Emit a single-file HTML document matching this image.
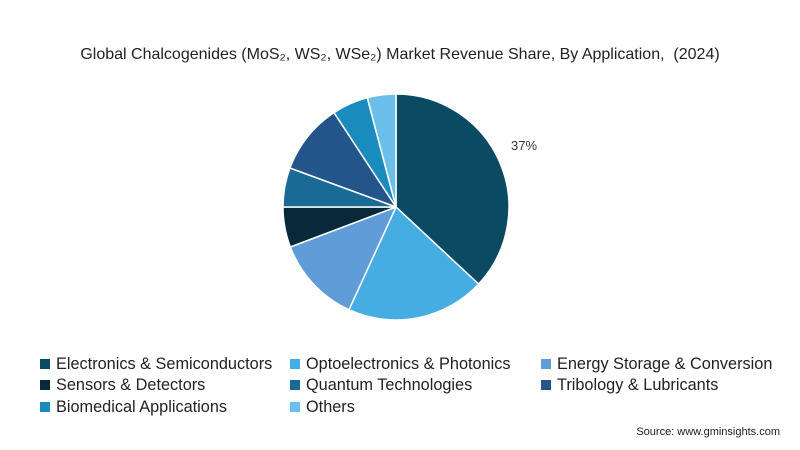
<!DOCTYPE html>
<html><head><meta charset="utf-8"><style>
html,body{margin:0;padding:0;background:#fff;}
#w{position:relative;width:800px;height:450px;overflow:hidden;font-family:"Liberation Sans",sans-serif;color:#222;}
.t{position:absolute;left:0;width:800px;top:46px;text-align:center;font-size:16px;}
.lg{position:absolute;font-size:16.3px;white-space:nowrap;color:#222;}
.sq{display:inline-block;width:10px;height:10px;margin-right:6px;vertical-align:0px;}
.src{position:absolute;right:20px;top:426px;font-size:11px;}
</style></head><body><div id="w">
<div class="t">Global Chalcogenides (MoS₂, WS₂, WSe₂) Market Revenue Share, By Application,&nbsp; (2024)</div>
<svg width="800" height="450" style="position:absolute;left:0;top:0">
<g stroke="#fff" stroke-width="1.5" stroke-linejoin="round">
<path d="M396,207 L396,94 A113,113 0 0 1 478.6,284.1 Z" fill="#0b4a63"/>
<path d="M396,207 L478.6,284.1 A113,113 0 0 1 349,309.7 Z" fill="#45ade2"/>
<path d="M396,207 L349,309.7 A113,113 0 0 1 290.3,247 Z" fill="#5f9cd8"/>
<path d="M396,207 L290.3,247 A113,113 0 0 1 283,207 Z" fill="#07293a"/>
<path d="M396,207 L283,207 A113,113 0 0 1 289.9,168 Z" fill="#1a6a96"/>
<path d="M396,207 L289.9,168 A113,113 0 0 1 334,112.6 Z" fill="#23558a"/>
<path d="M396,207 L334,112.6 A113,113 0 0 1 367.3,97.7 Z" fill="#1a8bbd"/>
<path d="M396,207 L367.3,97.7 A113,113 0 0 1 396,94 Z" fill="#6bbfea"/>
</g>
<text x="511" y="150" font-family="Liberation Sans,sans-serif" font-size="13" fill="#333">37%</text>
</svg>
<div class="lg" style="left:40px;top:355px"><span class="sq" style="background:#0b4a63"></span>Electronics &amp; Semiconductors</div>
<div class="lg" style="left:290px;top:355px"><span class="sq" style="background:#45ade2"></span>Optoelectronics &amp; Photonics</div>
<div class="lg" style="left:541px;top:355px"><span class="sq" style="background:#5f9cd8"></span>Energy Storage &amp; Conversion</div>
<div class="lg" style="left:40px;top:376px"><span class="sq" style="background:#07293a"></span>Sensors &amp; Detectors</div>
<div class="lg" style="left:290px;top:376px"><span class="sq" style="background:#1a6a96"></span>Quantum Technologies</div>
<div class="lg" style="left:541px;top:376px"><span class="sq" style="background:#23558a"></span>Tribology &amp; Lubricants</div>
<div class="lg" style="left:40px;top:398px"><span class="sq" style="background:#1a8bbd"></span>Biomedical Applications</div>
<div class="lg" style="left:290px;top:398px"><span class="sq" style="background:#6bbfea"></span>Others</div>
<div class="src">Source: www.gminsights.com</div>
</div></body></html>
